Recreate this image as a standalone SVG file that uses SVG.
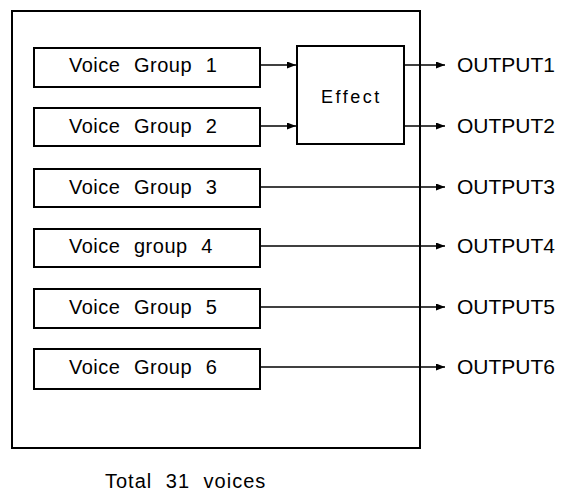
<svg xmlns="http://www.w3.org/2000/svg" width="561" height="494" viewBox="0 0 561 494">
  <defs>
    <marker id="arr" markerUnits="userSpaceOnUse" markerWidth="9" markerHeight="7" refX="9" refY="3.5" orient="auto">
      <path d="M0,0 L9,3.5 L0,7 Z" fill="#000"/>
    </marker>
    <style>
      .box { fill: #fff; stroke: #000; stroke-width: 2; }
      .frame { fill: none; stroke: #000; stroke-width: 2; }
      .vg { font-family: "Liberation Sans", Arial, sans-serif; font-size: 20px; letter-spacing: 0.5px; word-spacing: 7.5px; fill: #000; }
      .out { font-family: "Liberation Sans", Arial, sans-serif; font-size: 21px; fill: #000; }
      .eff { font-family: "Liberation Sans", Arial, sans-serif; font-size: 18px; letter-spacing: 2.5px; fill: #000; }
      .tot { font-family: "Liberation Sans", Arial, sans-serif; font-size: 20px; letter-spacing: 1px; word-spacing: 7px; fill: #000; }
      .conn line { stroke: #000; stroke-width: 1.6; marker-end: url(#arr); }
    </style>
  </defs>
  <rect width="561" height="494" fill="#fff"/>
  <g id="frame">
    <rect class="frame" x="12" y="11" width="408" height="437"/>
  </g>
  <g id="vg1"><rect class="box" x="34" y="48" width="226" height="39"/><text class="vg" x="69" y="72">Voice Group 1</text></g>
  <g id="vg2"><rect class="box" x="34" y="108" width="226" height="38"/><text class="vg" x="69" y="133">Voice Group 2</text></g>
  <g id="vg3"><rect class="box" x="34" y="169" width="226" height="38"/><text class="vg" x="69" y="194">Voice Group 3</text></g>
  <g id="vg4"><rect class="box" x="34" y="229" width="226" height="38"/><text class="vg" x="69" y="253">Voice group 4</text></g>
  <g id="vg5"><rect class="box" x="34" y="289" width="226" height="39"/><text class="vg" x="69" y="314">Voice Group 5</text></g>
  <g id="vg6"><rect class="box" x="34" y="349" width="226" height="40"/><text class="vg" x="69" y="374">Voice Group 6</text></g>
  <g id="effect"><rect class="box" x="297" y="46" width="107" height="98"/><text class="eff" x="321" y="103">Effect</text></g>
  <g id="connectors" class="conn">
    <line x1="260" y1="65" x2="296" y2="65"/>
    <line x1="260" y1="126" x2="296" y2="126"/>
    <line x1="404" y1="65" x2="445" y2="65"/>
    <line x1="404" y1="126" x2="445" y2="126"/>
    <line x1="260" y1="187" x2="445" y2="187"/>
    <line x1="260" y1="246" x2="445" y2="246"/>
    <line x1="260" y1="307" x2="445" y2="307"/>
    <line x1="260" y1="367" x2="445" y2="367"/>
  </g>
  <g id="outputs">
    <text class="out" x="457" y="72">OUTPUT1</text>
    <text class="out" x="457" y="133">OUTPUT2</text>
    <text class="out" x="457" y="194">OUTPUT3</text>
    <text class="out" x="457" y="253">OUTPUT4</text>
    <text class="out" x="457" y="314">OUTPUT5</text>
    <text class="out" x="457" y="374">OUTPUT6</text>
  </g>
  <g id="total"><text class="tot" x="105" y="488">Total 31 voices</text></g>
</svg>
